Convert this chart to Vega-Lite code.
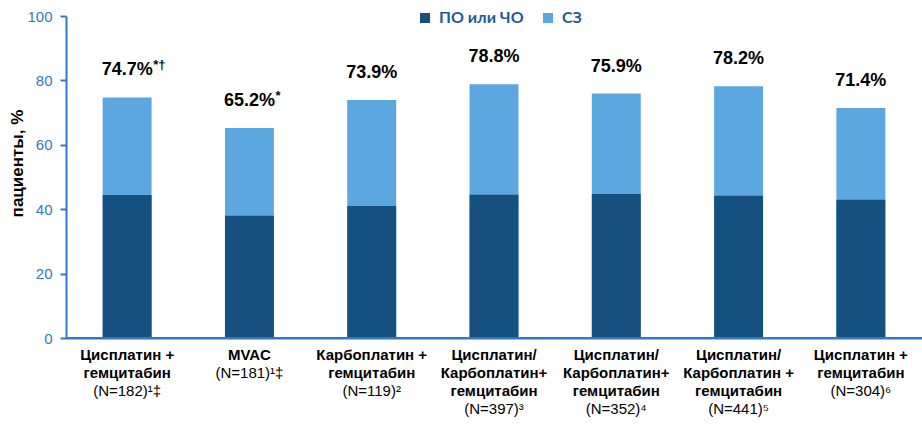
{
  "$schema": "https://vega.github.io/schema/vega-lite/v6.json",
  "width": 856,
  "height": 322,
  "autosize": {"type": "none"},
  "padding": {"left": 66, "top": 16, "right": 0, "bottom": 87},
  "background": "white",
  "config": {
    "view": {"stroke": null},
    "font": "Liberation Sans",
    "axis": {"grid": false}
  },
  "data": {
    "values": [
      {"cat": "Цисплатин +|гемцитабин|(N=182)¹‡", "po": 44.4, "total": 74.7, "num": "74.7%", "suf": "*†"},
      {"cat": "MVAC|(N=181)¹‡", "po": 38.0, "total": 65.2, "num": "65.2%", "suf": "*"},
      {"cat": "Карбоплатин +|гемцитабин|(N=119)²", "po": 41.0, "total": 73.9, "num": "73.9%", "suf": ""},
      {"cat": "Цисплатин/|Карбоплатин+|гемцитабин|(N=397)³", "po": 44.5, "total": 78.8, "num": "78.8%", "suf": ""},
      {"cat": "Цисплатин/|Карбоплатин+|гемцитабин|(N=352)⁴", "po": 44.7, "total": 75.9, "num": "75.9%", "suf": ""},
      {"cat": "Цисплатин/|Карбоплатин +|гемцитабин|(N=441)⁵", "po": 44.2, "total": 78.2, "num": "78.2%", "suf": ""},
      {"cat": "Цисплатин +|гемцитабин|(N=304)⁶", "po": 42.9, "total": 71.4, "num": "71.4%", "suf": ""}
    ]
  },
  "resolve": {"axis": {"x": "independent"}},
  "layer": [
    {
      "mark": {"type": "bar"},
      "encoding": {
        "x": {
          "field": "cat", "type": "nominal", "sort": null,
          "scale": {"paddingInner": 0.6, "paddingOuter": 0.3},
          "axis": {
            "orient": "bottom", "title": null, "labelAngle": 0, "ticks": false,
            "domain": true, "domainColor": "#2E7BC4", "domainWidth": 2,
            "labelExpr": "slice(split(datum.value,'|'),0,-1)",
            "labelFont": "Liberation Sans", "labelFontSize": 15, "labelFontWeight": "bold",
            "labelColor": "#000000", "labelLineHeight": 18, "labelPadding": 9,
            "labelLimit": 200, "labelOverlap": false, "labelBaseline": "top"
          }
        },
        "y": {
          "field": "total", "type": "quantitative",
          "scale": {"domain": [0, 100], "nice": false},
          "axis": {
            "values": [0, 20, 40, 60, 80, 100],
            "title": "пациенты, %", "titleFont": "Liberation Sans", "titleFontSize": 17,
            "titleFontWeight": "bold", "titleColor": "#000000", "titlePadding": 0,
            "titleY": 147,
            "domainColor": "#2E7BC4", "domainWidth": 2,
            "tickColor": "#2E7BC4", "tickWidth": 2, "tickSize": 6,
            "labelColor": "#2E7BC4", "labelFontSize": 15, "labelPadding": 8,
            "labelFont": "Liberation Sans"
          }
        },
        "color": {
          "datum": "СЗ", "type": "nominal",
          "scale": {"domain": ["ПО или ЧО", "СЗ"], "range": ["#16507F", "#5CA7DF"]},
          "legend": {
            "title": null, "orient": "none", "direction": "horizontal",
            "legendX": 351, "legendY": -6, "padding": 0,
            "symbolType": "square", "symbolSize": 100, "symbolStrokeWidth": 0,
            "labelFont": "Lato", "labelFontSize": 16, "labelFontWeight": "bold",
            "labelColor": "#1F5A96", "columnPadding": 16, "labelOffset": 6
          }
        }
      }
    },
    {
      "mark": {"type": "bar"},
      "encoding": {
        "x": {
          "field": "cat", "type": "nominal", "sort": null,
          "axis": {
            "orient": "bottom", "title": null, "labelAngle": 0, "ticks": false,
            "domain": false,
            "labelExpr": "split(replace(datum.value, regexp('[^|]+[|]', 'g'), '\u200b|'), '|')",
            "labelFont": "Liberation Sans", "labelFontSize": 15, "labelFontWeight": "normal",
            "labelColor": "#000000", "labelLineHeight": 18, "labelPadding": 9,
            "labelLimit": 200, "labelOverlap": false, "labelBaseline": "top"
          }
        },
        "y": {"field": "po", "type": "quantitative"},
        "color": {"datum": "ПО или ЧО", "type": "nominal"}
      }
    },
    {
      "mark": {"type": "rule", "color": "#2E7BC4", "strokeWidth": 2},
      "encoding": {"y": {"datum": 0, "type": "quantitative"}}
    },
    {
      "mark": {"type": "text", "font": "Liberation Sans", "fontSize": 18, "fontWeight": "bold", "color": "#000000", "align": "center", "baseline": "alphabetic", "dy": -22},
      "encoding": {
        "x": {"field": "cat", "type": "nominal", "sort": null, "axis": null},
        "y": {"field": "total", "type": "quantitative"},
        "text": {"field": "num"}
      }
    },
    {
      "mark": {"type": "text", "font": "Liberation Sans", "fontSize": 13, "fontWeight": "bold", "color": "#000000", "align": "left", "baseline": "alphabetic", "dx": 26, "dy": -28},
      "encoding": {
        "x": {"field": "cat", "type": "nominal", "sort": null, "axis": null},
        "y": {"field": "total", "type": "quantitative"},
        "text": {"field": "suf"}
      }
    }
  ]
}
